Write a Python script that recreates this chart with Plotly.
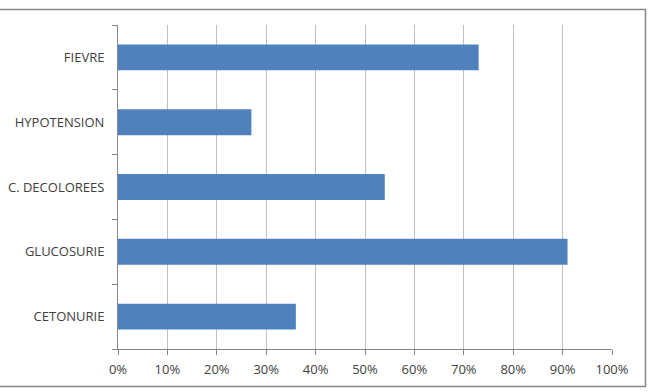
import plotly.graph_objects as go

categories = ["CETONURIE", "GLUCOSURIE", "C. DECOLOREES", "HYPOTENSION", "FIEVRE"]
values = [0.36, 0.91, 0.54, 0.27, 0.73]
x_ticks = [0, 0.1, 0.2, 0.3, 0.4, 0.5, 0.6, 0.7, 0.8, 0.9, 1.0]

W, H = 650, 392
L, R, T, B = 118, 38, 25, 43
pw, ph = W - L - R, H - T - B


def px_x(x):
    return (x - L) / pw


def px_y(y):
    return (H - B - y) / ph


fig = go.Figure(go.Bar(
    x=values, y=categories, orientation="h",
    marker=dict(color="#4F81BD", line=dict(width=0)),
))

fig.update_layout(
    width=W, height=H,
    margin=dict(l=L, r=R, t=T, b=B),
    paper_bgcolor="white", plot_bgcolor="white",
    bargap=0.6,
    showlegend=False,
    font=dict(family="Open Sans, Lato, sans-serif", size=13, color="#404040"),
    xaxis=dict(
        range=[0, 1], tickvals=x_ticks, tickformat=".0%",
        showgrid=True, gridcolor="#BFBFBF", gridwidth=1,
        showline=True, linecolor="#868686", linewidth=1,
        ticks="outside", ticklen=5, tickcolor="#868686",
        ticklabelstandoff=3, automargin=False,
        zeroline=False, fixedrange=True,
    ),
    yaxis=dict(
        categoryorder="array", categoryarray=categories,
        showline=True, linecolor="#868686", linewidth=1,
        ticks="outside", ticklen=5, tickcolor="#868686",
        tickson="boundaries", showgrid=False,
        ticklabelstandoff=10, automargin=False,
        fixedrange=True,
    ),
    shapes=[dict(
        type="rect", xref="paper", yref="paper",
        x0=px_x(-3), x1=px_x(645.5),
        y0=px_y(386.5), y1=px_y(9.5),
        line=dict(color="#868686", width=1.5),
        fillcolor="rgba(0,0,0,0)", layer="below",
    )],
)

fig.write_html("out.html")
